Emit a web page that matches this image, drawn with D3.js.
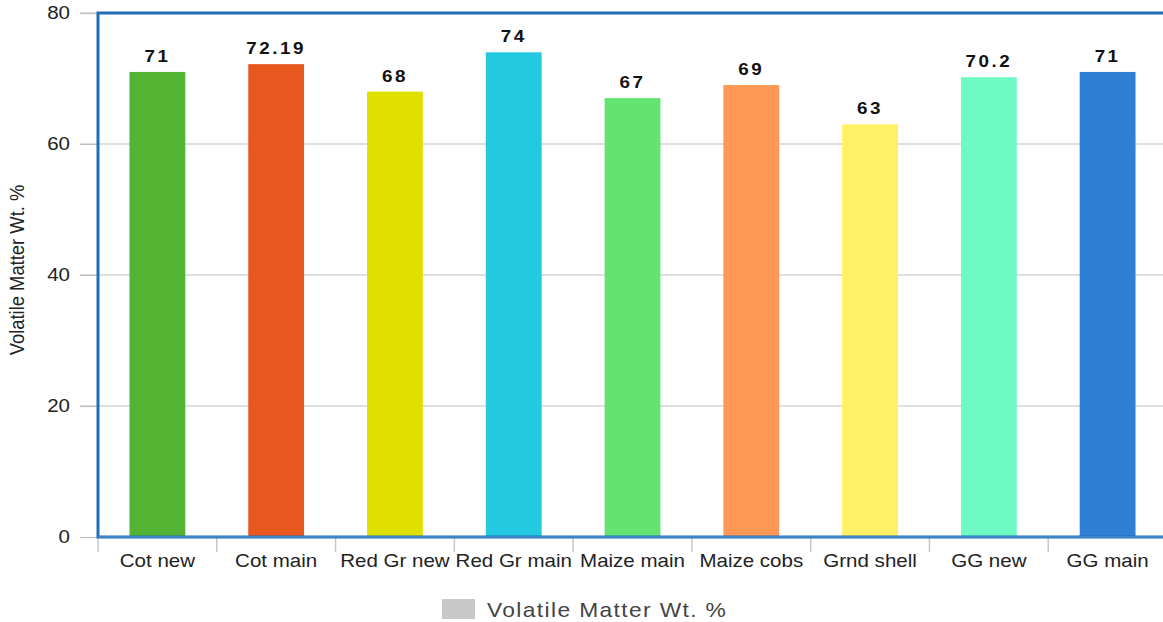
<!DOCTYPE html>
<html>
<head>
<meta charset="utf-8">
<script src="https://cdn.jsdelivr.net/npm/d3@7"></script>
<style>
  body { margin: 0; background: #fff; }
  text { font-family: "Liberation Sans", Arial, sans-serif; }
</style>
</head>
<body>
<svg width="1163" height="622"></svg>
<script>
const categories = ['Cot new', 'Cot main', 'Red Gr new', 'Red Gr main', 'Maize main', 'Maize cobs', 'Grnd shell', 'GG new', 'GG main']
const values = [71, 72.19, 68, 74, 67, 69, 63, 70.2, 71]
const valueLabels = ['71', '72.19', '68', '74', '67', '69', '63', '70.2', '71']
const barColors = ['#52b432', '#e8571e', '#dfe000', '#22c9e1', '#62e372', '#ff9755', '#fff066', '#6ffac3', '#2f7fd6']
const yTicks = [0, 20, 40, 60, 80]
const seriesName = 'Volatile Matter Wt. %'

const svg = d3.select('svg')
const plotLeft = 98, plotTop = 13, plotBottom = 537, plotRight = 1167
const stretchX = 1.14  // the source text looks wider than plain Arial

const x = d3.scaleBand()
    .domain(categories)
    .range([plotLeft, plotRight])
    .paddingInner(0.53)
    .paddingOuter(0.265)

const y = d3.scaleLinear()
    .domain([0, 80])
    .range([plotBottom, plotTop])

// grid lines
svg.append('g')
    .selectAll('line')
    .data(yTicks.filter(d => d > 0))
    .join('line')
        .attr('x1', 80)
        .attr('x2', plotRight)
        .attr('y1', d => y(d))
        .attr('y2', d => y(d))
        .attr('stroke', '#c0c0c0')
        .attr('stroke-width', 1.2)

// y axis
const yAxis = svg.append('g')
    .attr('transform', `translate(${plotLeft},0)`)
    .call(d3.axisLeft(y).tickValues(yTicks).tickSize(18).tickPadding(0))
yAxis.select('.domain').remove()
yAxis.selectAll('line').attr('stroke', '#c0c0c0').attr('stroke-width', 1.2)
yAxis.selectAll('text')
    .attr('font-size', 18)
    .attr('fill', '#222')
    .attr('x', 0)
    .attr('transform', `translate(-28,0) scale(${stretchX},1)`)

// bars
svg.append('g')
    .selectAll('rect')
    .data(values)
    .join('rect')
        .attr('x', (d, i) => x(categories[i]))
        .attr('y', d => y(d))
        .attr('width', x.bandwidth())
        .attr('height', d => plotBottom - y(d))
        .attr('fill', (d, i) => barColors[i])

// value labels
svg.append('g')
    .selectAll('text')
    .data(values)
    .join('text')
        .attr('transform', (d, i) => `translate(${x(categories[i]) + x.bandwidth() / 2},${y(d) - 10}) scale(${stretchX},1)`)
        .attr('text-anchor', 'middle')
        .attr('font-size', 16.5)
        .attr('font-weight', 'bold')
        .attr('letter-spacing', 2.2)
        .attr('fill', '#111')
        .text((d, i) => valueLabels[i])

// category ticks and labels
const step = x.step()
svg.append('g')
    .selectAll('line')
    .data(d3.range(categories.length + 1))
    .join('line')
        .attr('x1', i => plotLeft + i * step)
        .attr('x2', i => plotLeft + i * step)
        .attr('y1', plotBottom)
        .attr('y2', plotBottom + 15)
        .attr('stroke', '#c0c8d0')
        .attr('stroke-width', 1.5)

svg.append('g')
    .selectAll('text')
    .data(categories)
    .join('text')
        .attr('transform', d => `translate(${x(d) + x.bandwidth() / 2},567) scale(${stretchX},1)`)
        .attr('text-anchor', 'middle')
        .attr('font-size', 18)
        .attr('fill', '#222')
        .text(d => d)

// frame
svg.append('path')
    .attr('d', `M${plotRight},${plotTop} L${plotLeft},${plotTop} L${plotLeft},${plotBottom} L${plotRight},${plotBottom}`)
    .attr('fill', 'none')
    .attr('stroke', '#1f6fb8')
    .attr('stroke-width', 3)
svg.append('line')
    .attr('x1', plotLeft).attr('x2', plotRight)
    .attr('y1', plotBottom).attr('y2', plotBottom)
    .attr('stroke', '#3b86c8')
    .attr('stroke-width', 2)

// y title
svg.append('text')
    .attr('transform', 'translate(24,270) rotate(-90) scale(0.92,1)')
    .attr('text-anchor', 'middle')
    .attr('font-size', 20)
    .attr('fill', '#222')
    .text(seriesName)

// legend
svg.append('rect')
    .attr('x', 442)
    .attr('y', 599)
    .attr('width', 33)
    .attr('height', 20)
    .attr('fill', '#c8c8c8')
svg.append('text')
    .attr('transform', `translate(487,617) scale(${stretchX},1)`)
    .attr('font-size', 20)
    .attr('letter-spacing', 1.2)
    .attr('fill', '#444')
    .text(seriesName)
</script>
</body>
</html>
